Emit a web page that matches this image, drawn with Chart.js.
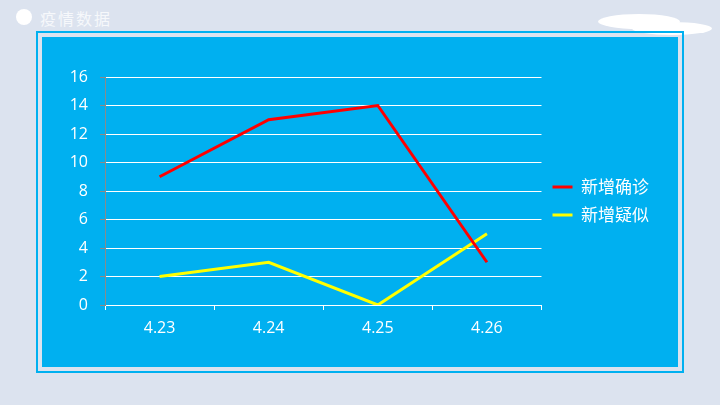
<!DOCTYPE html>
<html>
<head>
<meta charset="utf-8">
<script src="https://cdn.jsdelivr.net/npm/chart.js@4/dist/chart.umd.min.js"></script>
<style>
  html, body { margin: 0; padding: 0; }
  body { width: 720px; height: 405px; background: #dce3ef; position: relative; overflow: hidden;
         font-family: "Noto Sans CJK SC", "Noto Sans", sans-serif; }
  .dot { position: absolute; left: 16px; top: 9px; width: 16px; height: 16px; border-radius: 50%; background: #fff; }
  .title { position: absolute; left: 40px; top: 6px; font-size: 16px; letter-spacing: 2px; color: #f6f8fb; }
  .cloud { position: absolute; background: #fff; border-radius: 50%; }
  .frame { position: absolute; left: 36px; top: 31px; width: 644px; height: 338px; border: 2px solid #00b0f0; }
  .panel { position: absolute; left: 42px; top: 37px; width: 636px; height: 330px; background: #00b0f0; }
  #chart { position: absolute; left: 42px; top: 37px; }
</style>
</head>
<body>
<div class="dot"></div>
<div class="title">疫情数据</div>
<div class="cloud" style="left:598px; top:14px; width:82px; height:15px;"></div>
<div class="cloud" style="left:632px; top:22px; width:80px; height:13px;"></div>
<div class="frame"></div>
<div class="panel"></div>
<canvas id="chart" width="636" height="330"></canvas>
<script>
// 日期
const labels = ["4.23", "4.24", "4.25", "4.26"];
// 新增确诊 / 新增疑似
const confirmed = [9, 13, 14, 3];
const suspected = [2, 3, 0, 5];
const seriesNames = ["新增确诊", "新增疑似"];

const ctx = document.getElementById("chart").getContext("2d");
new Chart(ctx, {
    type: "line",
    data: {
        labels: labels,
        datasets: [
            { label: seriesNames[0], data: confirmed, borderColor: "#ff0000", backgroundColor: "#ff0000",
              borderWidth: 3, pointRadius: 0, tension: 0, fill: false },
            { label: seriesNames[1], data: suspected, borderColor: "#ffff00", backgroundColor: "#ffff00",
              borderWidth: 3, pointRadius: 0, tension: 0, fill: false }
        ]
    },
    options: {
        responsive: false,
        animation: false,
        layout: { padding: { left: 0, top: 40, right: 19, bottom: 0 } },
        plugins: {
            tooltip: { enabled: false },
            legend: {
                position: "right",
                fullSize: false,
                title: { display: true, text: " ", font: { size: 10 }, padding: { top: 8, bottom: 0 } },
                labels: {
                    color: "#ffffff",
                    font: { family: "Noto Sans CJK SC", size: 17 },
                    usePointStyle: true,
                    pointStyle: "line",
                    pointStyleWidth: 20,
                    boxWidth: 20,
                    padding: 11
                }
            }
        },
        scales: {
            x: {
                offset: true,
                afterFit: s => { s.height = 62; },
                grid: { drawOnChartArea: false, drawTicks: true, tickLength: 5, tickColor: "#ffffff", offset: true },
                border: { color: "#ffffff" },
                ticks: { color: "#ffffff", font: { family: "Open Sans", size: 16 }, padding: 9 }
            },
            y: {
                min: 0, max: 16,
                afterFit: s => { s.width = 63; },
                grid: { color: "#ffffff", tickColor: "#8a8a8a", tickLength: 5 },
                border: { color: "#8a8a8a" },
                ticks: { stepSize: 2, color: "#ffffff", font: { family: "Open Sans", size: 16 }, padding: 12 }
            }
        }
    }
});
</script>
</body>
</html>
